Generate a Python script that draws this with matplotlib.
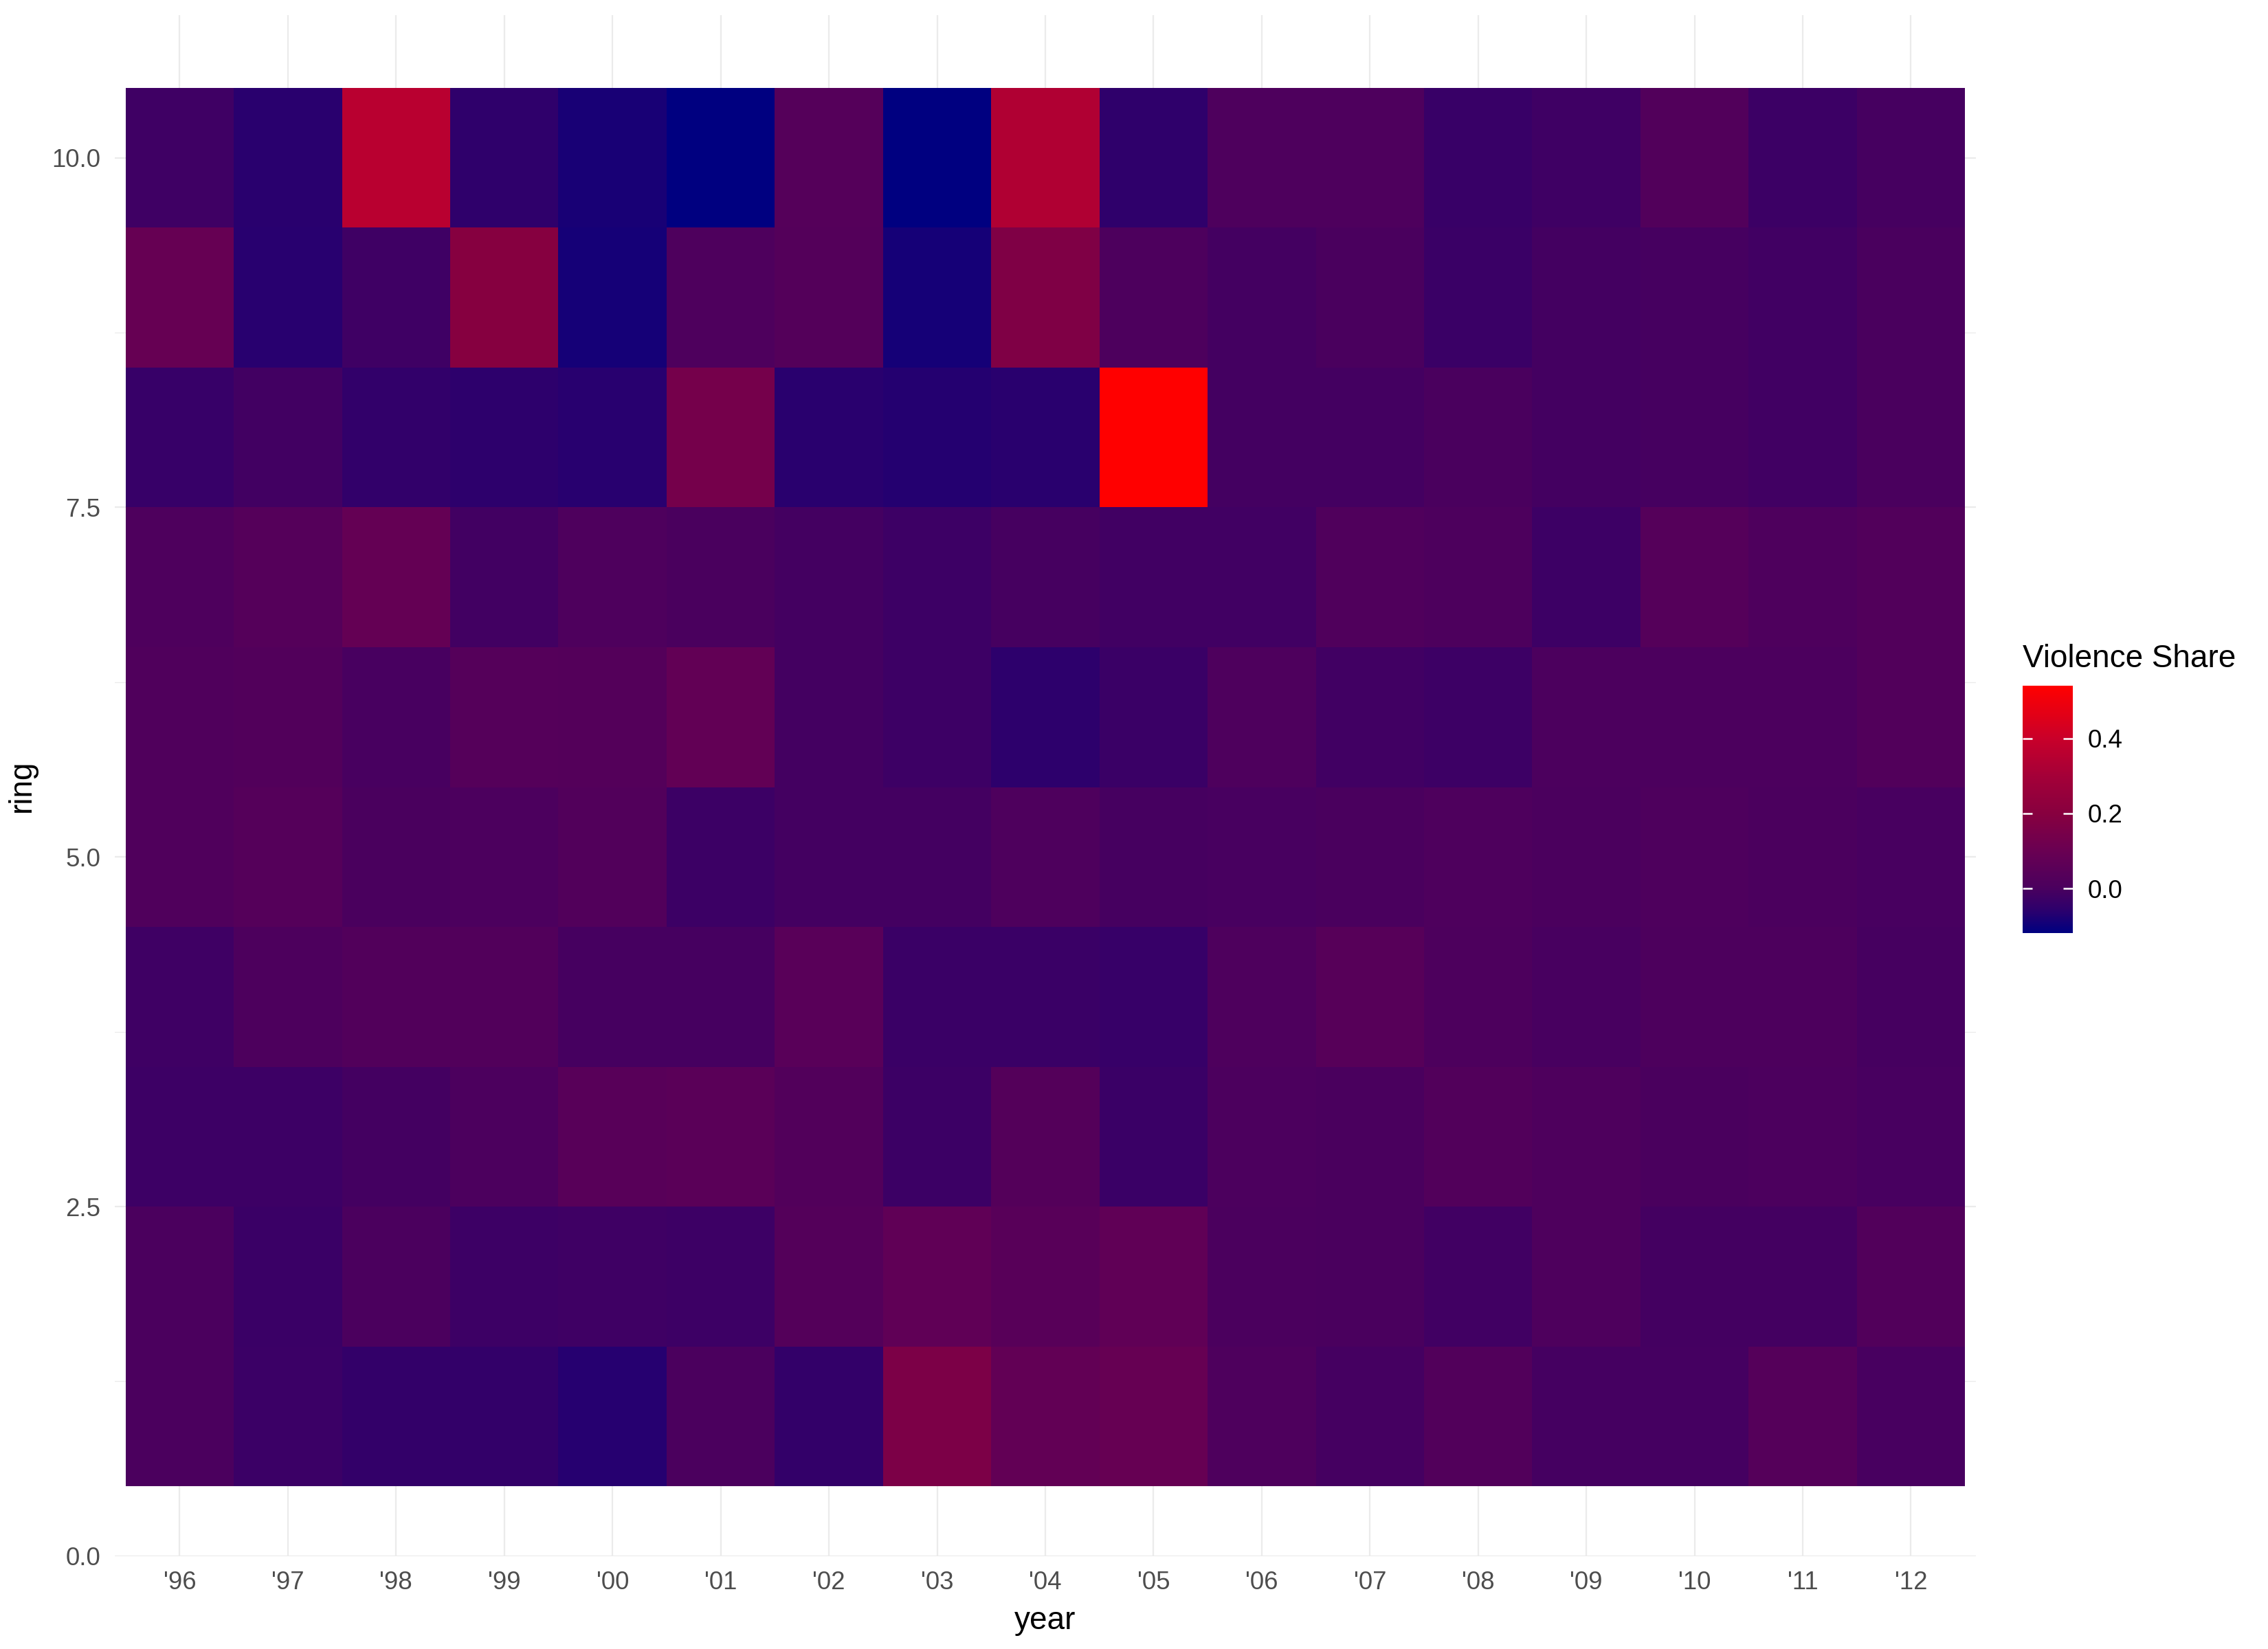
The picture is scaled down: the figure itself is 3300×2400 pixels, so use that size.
import numpy as np
import matplotlib
matplotlib.use("Agg")
import matplotlib.pyplot as plt
from matplotlib.colors import LinearSegmentedColormap

plt.rcParams['font.family'] = ['Liberation Sans', 'DejaVu Sans']

# data: violence share by ring (1..10) and year
years = ["'96", "'97", "'98", "'99", "'00", "'01", "'02", "'03", "'04",
         "'05", "'06", "'07", "'08", "'09", "'10", "'11", "'12"]
rings = [1, 2, 3, 4, 5, 6, 7, 8, 9, 10]

ring1 = [0.003, -0.030, -0.045, -0.045, -0.067, 0.003, -0.045, 0.162, 0.078,
         0.090, 0.012, -0.010, 0.024, -0.010, -0.010, 0.034, -0.004]
ring2 = [0.003, -0.033, 0.003, -0.025, -0.023, -0.025, 0.031, 0.070, 0.044,
         0.070, 0.003, 0.000, -0.017, 0.012, -0.012, -0.012, 0.024]
ring3 = [-0.025, -0.025, -0.012, 0.005, 0.044, 0.051, 0.024, -0.027, 0.031,
         -0.033, 0.005, 0.000, 0.024, 0.012, 0.000, 0.005, -0.004]
ring4 = [-0.023, 0.008, 0.024, 0.024, -0.008, -0.008, 0.047, -0.033, -0.033,
         -0.037, 0.012, 0.041, 0.008, -0.004, 0.008, 0.008, -0.008]
ring5 = [0.018, 0.034, 0.000, 0.005, 0.024, -0.027, -0.012, -0.012, 0.012,
         -0.006, -0.004, 0.000, 0.012, 0.003, 0.012, 0.003, -0.004]
ring6 = [0.018, 0.024, -0.004, 0.034, 0.031, 0.076, -0.012, -0.025, -0.056,
         -0.033, 0.012, -0.017, -0.025, 0.005, 0.005, 0.005, 0.024]
ring7 = [0.012, 0.034, 0.083, -0.015, 0.012, 0.002, -0.012, -0.025, -0.008,
         -0.017, -0.017, 0.018, 0.008, -0.025, 0.034, 0.012, 0.024]
ring8 = [-0.037, -0.015, -0.049, -0.056, -0.063, 0.139, -0.061, -0.068, -0.061,
         0.541, -0.012, -0.012, 0.002, -0.012, -0.008, -0.017, 0.000]
ring9 = [0.090, -0.064, -0.023, 0.195, -0.089, 0.012, 0.031, -0.089, 0.171,
         0.008, -0.012, 0.000, -0.033, -0.012, -0.008, -0.017, 0.000]
ring10 = [-0.023, -0.061, 0.356, -0.053, -0.083, -0.119, 0.034, -0.117, 0.333,
          -0.053, 0.010, 0.010, -0.035, -0.023, 0.024, -0.027, -0.006]

share = np.array([ring1, ring2, ring3, ring4, ring5, ring6, ring7, ring8, ring9, ring10])

# navy -> red gradient, stops
grad_pos = [0.0, 0.1, 0.183, 0.335, 0.485, 0.635, 0.786, 1.0]
grad_col = ['#000080', '#30006B', '#4B005E', '#6A0052', '#88003F', '#A40038',
            '#C8002A', '#FF0000']
cmap = LinearSegmentedColormap.from_list('navy_red', list(zip(grad_pos, grad_col)))

fig = plt.figure(figsize=(11, 8), dpi=300)
ax = fig.add_axes([0.0506, 0.0563, 0.8206, 0.9345])

xe = np.arange(0.5, len(years) + 1)
ye = np.arange(0.5, len(rings) + 1)
mesh = ax.pcolormesh(xe, ye, share, cmap=cmap, vmin=share.min(), vmax=share.max(),
                     zorder=2)

ax.set_xlim(0.4, 17.6)
ax.set_ylim(0, 11.02)
ax.set_xticks(np.arange(1, len(years) + 1))
ax.set_xticklabels(years)
ax.set_yticks([0, 2.5, 5, 7.5, 10])
ax.set_yticklabels(["0.0", "2.5", "5.0", "7.5", "10.0"])
ax.set_yticks([1.25, 3.75, 6.25, 8.75], minor=True)

ax.grid(True, which='major', color='#EBEBEB', lw=0.55, zorder=0)
ax.grid(True, which='minor', axis='y', color='#EBEBEB', lw=0.3, zorder=0)
for s in ax.spines.values():
    s.set_visible(False)
ax.tick_params(which='both', length=0, labelsize=8.8, labelcolor='#4D4D4D', pad=5)
ax.set_xlabel("year", fontsize=11, labelpad=4)
ax.set_ylabel("ring", fontsize=11, labelpad=5)

cax = fig.add_axes([0.8918, 0.4342, 0.0221, 0.15])
cb = fig.colorbar(mesh, cax=cax, ticks=[0.0, 0.2, 0.4])
cb.outline.set_visible(False)
cb.ax.set_yticklabels(["0.0", "0.2", "0.4"])
cax.tick_params(direction='in', length=3.4, width=0.6, color='white',
                left=True, right=True, labelsize=8.8, labelcolor='black', pad=5.3)
fig.text(0.8918, 1 - 971 / 2400, "Violence Share", fontsize=11, ha='left', va='baseline')

fig.savefig("out.png", dpi=300)
